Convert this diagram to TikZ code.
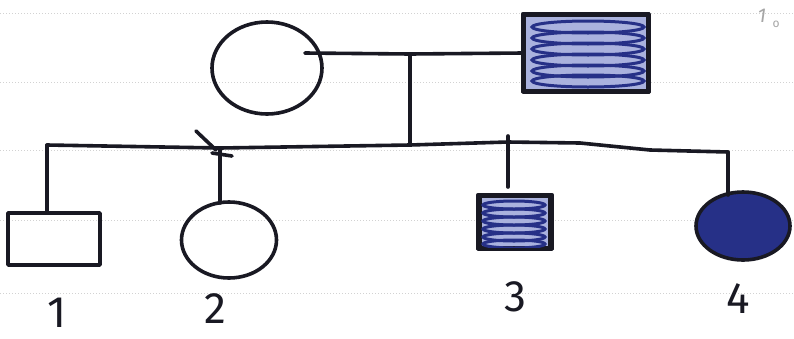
\documentclass[tikz,border=0pt]{standalone}
\usepackage{fontspec}
\setmainfont{Fira Sans}
\usetikzlibrary{shapes.geometric}
\definecolor{ink}{RGB}{25,25,35}
\definecolor{blueink}{RGB}{38,48,135}
\definecolor{bluetint}{RGB}{170,178,222}
\tikzset{
  pen/.style={draw=ink, line width=3.6pt, line cap=round, line join=round},
  fem/.style={ellipse, pen, inner sep=0pt},
  mal/.style={rectangle, pen, inner sep=0pt},
  scrib/.style={draw=blueink, line width=3pt},
  lab/.style={text=ink, font=\fontsize{44}{44}\selectfont},
  rule/.style={draw=gray!35, line width=1pt, dotted}
}
\begin{document}
\begin{tikzpicture}[x=1pt,y=-1pt]
\useasboundingbox (0,0) rectangle (794,338);
\fill[white] (0,0) rectangle (794,338);
% faint ruled paper lines
\foreach \yy in {13,82,150,220,293}
  \draw[rule] (0,\yy) -- (794,\yy);

% parents
\node[fem, minimum width=110, minimum height=92] (mo) at (267,68) {};
\node[mal, fill=bluetint, minimum width=123, minimum height=75] (fa) at (586,53) {};
\begin{scope}
  \clip (fa.south west) rectangle (fa.north east);
  \foreach \yy in {27,38,49,60,71,81}
    \draw[scrib] (588,\yy) ellipse [x radius=56, y radius=6];
\end{scope}
\draw[pen] (fa.south west) rectangle (fa.north east);

% marriage line and descent
\coordinate (m) at (410,54);
\coordinate (s) at (410,145);
\draw[pen] ([xshift=-19pt,yshift=15pt]mo.east) -- (m) -- (fa.west);
\draw[pen] (m) -- (s);

% sibship line
\coordinate (k1) at (47,145);
\coordinate (k2) at (220,148);
\coordinate (k3) at (508,142);
\coordinate (k4) at (728,152);
\draw[pen] (k1) -- (k2) -- (s) -- (k3) -- (580,143) -- (650,150) -- (k4);

% children
\node[mal, minimum width=92, minimum height=52] (c1) at (54,239) {};
\node[fem, minimum width=95, minimum height=76] (c2) at (229,240) {};
\node[mal, fill=bluetint, minimum width=70, minimum height=51] (c3) at (515,222) {};
\begin{scope}
  \clip (c3.south west) rectangle (c3.north east);
  \foreach \yy in {205,213,221,229,237,244}
    \draw[scrib] (514,\yy) ellipse [x radius=31, y radius=4];
\end{scope}
\draw[pen] (c3.south west) rectangle (c3.north east);
\node[fem, fill=blueink, minimum width=94, minimum height=68] (c4) at (743,226) {};

\draw[pen] (k1) -- (k1 |- c1.north);
\draw[pen] (k2) -- (220,203);
\draw[pen] (196,131) -- (216,150);
\draw[pen] (212,153) -- (232,156);
\draw[pen] (508,136) -- (k3) -- (508,187);
\draw[pen] (k4) -- (728,195);

% labels
\node[lab] (l1) at (57,313) {1};
\node[lab] (l2) at (215,309) {2};
\node[lab] (l3) at (515,297) {3};
\node[lab] (l4) at (738,299) {4};
\node[text=gray!70, font=\itshape\fontsize{20}{20}\selectfont] (pg) at (762,16) {1};
\node[text=gray!70, font=\fontsize{12}{12}\selectfont] (pg2) at (776,24) {o};
\end{tikzpicture}
\end{document}
